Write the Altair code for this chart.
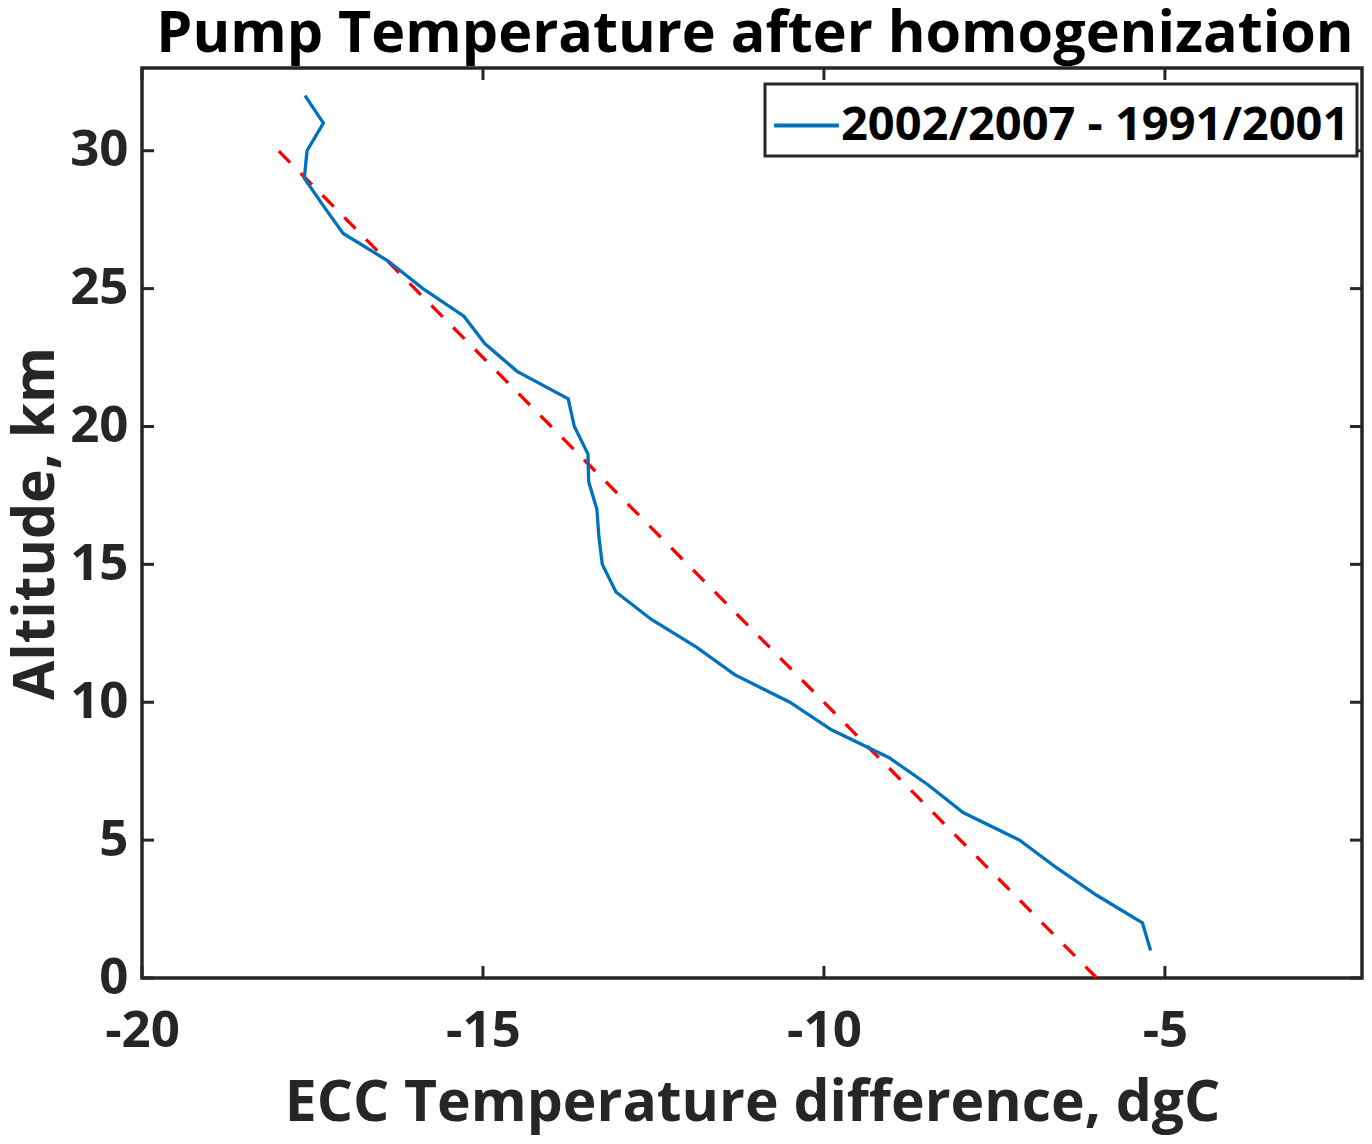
import altair as alt
import pandas as pd

# ---- data ----
ALTITUDE = list(range(1, 33))
TEMP_DIFF = [-5.21, -5.33, -6.00, -6.59, -7.13, -7.96, -8.47, -9.05, -9.89, -10.50,
             -11.31, -11.87, -12.53, -13.05, -13.25, -13.30, -13.33, -13.45, -13.46, -13.66,
             -13.75, -14.50, -14.97, -15.28, -15.88, -16.39, -17.05, -17.34, -17.62, -17.58,
             -17.34, -17.61]
FIT_X = [-6.0, -18.0]
FIT_Y = [0, 30]
X_TICKS = [-20, -15, -10, -5]
Y_TICKS = [0, 5, 10, 15, 20, 25, 30]
SERIES = "2002/2007 - 1991/2001"
TITLE = "Pump Temperature after homogenization"
XTITLE = "ECC Temperature difference, dgC"
YTITLE = "Altitude, km"

W, H = 1220, 910
FONT = "Open Sans"
AX = "#262626"

df = pd.DataFrame({"x": TEMP_DIFF, "y": ALTITUDE, "series": SERIES})
fit = pd.DataFrame({"x": FIT_X, "y": FIT_Y})
xt = pd.DataFrame({"x": X_TICKS})
yt = pd.DataFrame({"y": Y_TICKS})
tt_df = pd.DataFrame({"t": [TITLE]})

xscale = alt.Scale(domain=[-20, -2.11], nice=False, zero=False)
yscale = alt.Scale(domain=[0, 33], nice=False, zero=False)

LABEL_EXPR = "replace(datum.label, '\u2212', '-')"

xaxis = alt.Axis(values=X_TICKS, ticks=False, tickSize=0, domain=False, grid=False,
                 labelExpr=LABEL_EXPR,
                 labelFont=FONT, labelFontSize=51, labelFontWeight="bold", labelColor=AX,
                 labelPadding=68, labelBaseline="alphabetic", labelFlush=False,
                 labelOverlap=False, labelBound=False,
                 titleFont=FONT, titleFontSize=57, titleFontWeight="bold", titleColor=AX,
                 titleX=W / 2, titleY=142, titleBaseline="alphabetic", titleAlign="center")
yaxis = alt.Axis(values=Y_TICKS, ticks=False, tickSize=0, domain=False, grid=False,
                 labelFont=FONT, labelFontSize=51, labelFontWeight="bold", labelColor=AX,
                 labelPadding=14, labelBaseline="middle", labelFlush=False,
                 labelOverlap=False, labelBound=False,
                 titleFont=FONT, titleFontSize=57, titleFontWeight="bold", titleColor=AX,
                 titleX=-89, titleY=H / 2, titleAngle=270, titleBaseline="alphabetic",
                 titleAlign="center")

xenc = alt.X("x:Q", scale=xscale, axis=xaxis, title=XTITLE)
yenc = alt.Y("y:Q", scale=yscale, axis=yaxis, title=YTITLE)

line = alt.Chart(df).mark_line(strokeWidth=3.3, clip=True).encode(
    x=xenc, y=yenc,
    order=alt.Order("y:Q"),
    color=alt.Color("series:N",
                    scale=alt.Scale(domain=[SERIES], range=["#0072BD"]),
                    legend=alt.Legend(title=None, orient="none", legendX=623, legendY=16,
                                      symbolType="stroke", symbolSize=4200,
                                      symbolStrokeWidth=4, labelFont=FONT,
                                      labelFontSize=47, labelFontWeight="bold",
                                      labelColor="black", labelOffset=0,
                                      fillColor="white", strokeColor=AX, padding=7,
                                      labelLimit=1000)),
)

fitline = alt.Chart(fit).mark_line(strokeWidth=3.3, strokeDash=[16, 15], color="#FF0000").encode(
    x=xenc, y=yenc, order=alt.Order("y:Q"))

tick_style = dict(color=AX, strokeWidth=3)
bt = alt.Chart(xt).mark_rule(**tick_style).encode(x=xenc, y=alt.value(H), y2=alt.value(H - 12))
tt = alt.Chart(xt).mark_rule(**tick_style).encode(x=xenc, y=alt.value(0), y2=alt.value(12))
lt = alt.Chart(yt).mark_rule(**tick_style).encode(y=yenc, x=alt.value(0), x2=alt.value(12))
rt = alt.Chart(yt).mark_rule(**tick_style).encode(y=yenc, x=alt.value(W), x2=alt.value(W - 12))

title = alt.Chart(tt_df).mark_text(font=FONT, fontSize=57.5, fontWeight="bold", color="black",
                                   align="center", baseline="alphabetic").encode(
    text="t:N", x=alt.value(W / 2 + 3), y=alt.value(-16))

chart = alt.layer(fitline, line, bt, tt, lt, rt, title).properties(
    width=W, height=H,
    autosize=alt.AutoSizeParams(type="none"),
    padding={"left": 134, "top": 60, "right": 2, "bottom": 158},
).configure_view(stroke=AX, strokeWidth=3.5).configure_legend(strokeWidth=3)

chart.save("out.html", embed_options={"renderer": "svg", "actions": False})
